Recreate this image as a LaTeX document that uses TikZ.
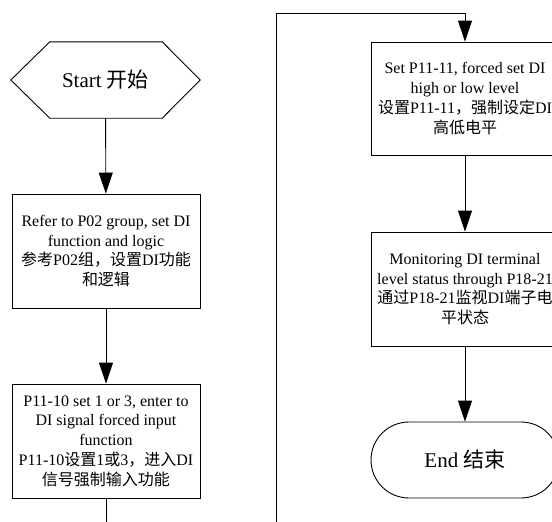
\documentclass[tikz,border=0pt]{standalone}
\usepackage{fontspec}
\setmainfont{Liberation Serif}
\newfontfamily\cjkfont{Noto Sans CJK SC}
\newcommand{\zh}[1]{{\cjkfont #1}}
\usetikzlibrary{arrows.meta,calc}

\begin{document}
\begin{tikzpicture}[x=1pt,y=-1pt,
  line/.style={line width=0.9pt},
  flow/.style={line, -{Triangle[length=21pt,width=14pt]}},
  stepbox/.style={draw, line, minimum width=188pt, minimum height=114pt,
    align=center, inner sep=0pt, font=\fontsize{16}{19.8}\selectfont},
  terminal/.style={minimum width=189pt, minimum height=76pt, inner sep=0pt,
    font=\fontsize{21}{24}\selectfont}
]
\useasboundingbox (0,0) rectangle (552,522);
\clip (0,0) rectangle (552,522);

% left column
\node[terminal] (start) at (105.5,80) {Start \zh{开始}};
\draw[line] (start.west) -- ($(start.north west)+(39,0)$)
  -- ($(start.north east)+(-38,0)$) -- (start.east)
  -- ($(start.south east)+(-38,0)$) -- ($(start.south west)+(39,0)$) -- cycle;

\node[stepbox] (refer) at (106,251) {Refer to P02 group, set DI\\function and logic\\
  \zh{参考}P02\zh{组，设置}DI\zh{功能}\\\zh{和逻辑}};

\node[stepbox] (enable) at (106,441) {P11-10 set 1 or 3, enter to\\DI signal forced input\\function\\
  P11-10\zh{设置}1\zh{或}3\zh{，进入}DI\\\zh{信号强制输入功能}};

% right column
\node[stepbox, minimum height=113pt] (force) at (465,98.5) {Set P11-11, forced set DI\\high or low level\\
  \zh{设置}P11-11\zh{，强制设定}DI\\\zh{高低电平}};

\node[stepbox] (monitor) at (465,289) {Monitoring DI terminal\\level status through P18-21\\
  \zh{通过}P18-21\zh{监视}DI\zh{端子电}\\\zh{平状态}};

\node[terminal, draw, line, minimum width=188pt, rounded corners=38pt] (finish) at (465,460) {End \zh{结束}};

% connectors
\coordinate (low) at (276,560);
\coordinate (high) at (276,13);
\draw[flow] (start) -- (refer);
\draw[flow] (refer) -- (enable);
\draw[flow] (enable.south) |- (low) -- (high) -| (force.north);
\draw[flow] (force) -- (monitor);
\draw[flow] (monitor) -- (finish);
\end{tikzpicture}
\end{document}
